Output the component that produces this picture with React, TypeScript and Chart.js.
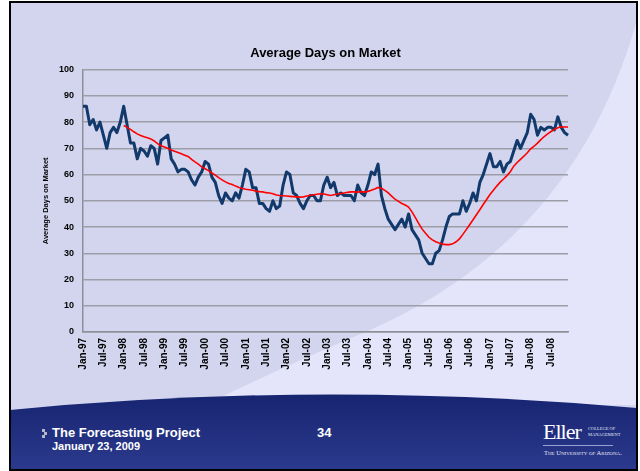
import React, { useEffect, useRef } from "react";
import { Chart, registerables } from "chart.js";

Chart.register(...registerables);

const MONTHS = ["Jan", "Feb", "Mar", "Apr", "May", "Jun", "Jul", "Aug", "Sep", "Oct", "Nov", "Dec"];
const YEARS = ["97", "98", "99", "00", "01", "02", "03", "04", "05", "06", "07", "08"];
const LABELED_MONTHS = ["Jan", "Jul"];

// Average days on market, monthly Jan-97 .. Dec-08
const DAYS_ON_MARKET = [
  86, 86, 79, 81, 77, 80, 75, 70, 76, 78, 76, 80,
  86, 79, 72, 72, 66, 70, 69, 67, 71, 70, 64, 73,
  74, 75, 66, 64, 61, 62, 62, 61, 58, 56, 59, 61,
  65, 64, 59, 57, 52, 49, 53, 51, 50, 53, 51, 56,
  62, 61, 55, 55, 49, 49, 47, 46, 50, 47, 48, 56,
  61, 60, 53, 52, 49, 47, 50, 52, 52, 50, 50, 56,
  59, 55, 57, 52, 53, 52, 52, 52, 50, 56, 53, 52,
  56, 61, 60, 64, 52, 47, 43, 41, 39, 41, 43, 40,
  45, 39, 37, 35, 30, 28, 26, 26, 30, 31, 35, 40,
  44, 45, 45, 45, 50, 46, 49, 53, 50, 57, 60, 64,
  68, 63, 63, 65, 61, 64, 65, 69, 73, 70, 73, 76,
  83, 81, 75, 78, 77, 78, 78, 77, 82, 78, 76, 75,
];

// 12-month moving average (red), Jan-98 .. Dec-08
const MA_START_INDEX = 12;
const MOVING_AVG = [
  78.7, 78, 77.2, 76.3, 75.5, 74.9, 74.4, 74, 73.6, 72.8, 71.8, 71,
  70.5, 70, 69.4, 68.9, 68.4, 67.9, 67.4, 66.9, 65.8, 64.8, 64, 62.9,
  62.2, 61.5, 60.6, 59.8, 58.8, 58, 57.2, 56.6, 56.2, 55.6, 55.1, 54.7,
  54.4, 54.2, 54, 53.7, 53.5, 53.4, 53.1, 53, 52.7, 52.2, 52, 51.9,
  51.8, 51.7, 51.6, 51.5, 51.4, 51.5, 51.8, 52.1, 52.3, 52.5, 52.7, 52.6,
  52.3, 52, 52.3, 52.6, 52.8, 53, 53.2, 53.4, 53.4, 53.3, 53.5, 53.3,
  53.6, 54, 54.5, 55.1, 54.8, 54, 53, 51.8, 50.6, 49.8, 49, 48.4,
  47.6, 45.8, 43.6, 41.3, 39.2, 37.6, 36.1, 35.1, 34.4, 33.9, 33.5, 33.3,
  33.3, 33.6, 34.4, 35.5, 37.2, 39, 40.9, 42.8, 44.7, 46.6, 48.6, 50.5,
  52.4, 54, 55.6, 57.1, 58.3, 59.6, 61.1, 63.2, 64.6, 65.8, 67, 68.3,
  69.8, 70.8, 72, 73.3, 74.5, 75.5, 76.4, 77.2, 77.8, 78.2, 78.1, 78.1,
];

const Y_MIN = 0;
const Y_MAX = 100;
const Y_STEP = 10;

const TITLE = "Average Days on Market";
const Y_TITLE = "Average Days on Market";

const FONT = "'Liberation Sans', Arial, sans-serif";

export default function App() {
  const canvasRef = useRef<HTMLCanvasElement | null>(null);

  useEffect(() => {
    const labels: string[] = [];
    YEARS.forEach((y) => MONTHS.forEach((m) => labels.push(`${m}-${y}`)));
    const maData: (number | null)[] = labels.map((_, i) =>
      i >= MA_START_INDEX ? MOVING_AVG[i - MA_START_INDEX] : null
    );

    const chart = new Chart(canvasRef.current as HTMLCanvasElement, {
      type: "line",
      data: {
        labels,
        datasets: [
          {
            label: "Moving average",
            data: maData,
            borderColor: "#ff0000",
            borderWidth: 1.6,
            pointRadius: 0,
            tension: 0,
            order: 0,
            spanGaps: false,
          },
          {
            label: "Average Days on Market",
            data: DAYS_ON_MARKET,
            borderColor: "#11396b",
            borderWidth: 3,
            pointRadius: 0,
            tension: 0,
            order: 1,
            borderJoinStyle: "round",
          },
        ],
      },
      options: {
        animation: false,
        responsive: false,
        devicePixelRatio: 1,
        layout: { padding: { left: 0, right: 72, top: 0, bottom: 0 } },
        plugins: {
          legend: { display: false },
          tooltip: { enabled: false },
          title: {
            display: true,
            text: TITLE,
            fullSize: false,
            color: "#000",
            font: { family: FONT, size: 13, weight: "bold" },
            padding: { top: 46, bottom: 8 },
          },
        },
        scales: {
          x: {
            type: "category",
            offset: false,
            grid: { display: false, drawTicks: false },
            border: { display: true, color: "#8e8e98", width: 1.5 },
            ticks: {
              autoSkip: false,
              maxRotation: 90,
              minRotation: 90,
              padding: 6,
              color: "#000",
              font: { family: FONT, size: 10, weight: "bold" },
              callback: function (_v: any, i: number) {
                const lab = labels[i];
                return LABELED_MONTHS.includes(lab.slice(0, 3)) ? lab : null;
              },
            },
            afterFit: (scale: any) => {
              scale.height = 68;
            },
          },
          y: {
            min: Y_MIN,
            max: Y_MAX,
            grid: { color: "#9d9da8", lineWidth: 1.5, drawTicks: false },
            border: { display: true, color: "#8e8e98", width: 1.5 },
            ticks: {
              stepSize: Y_STEP,
              padding: 9,
              color: "#000",
              font: { family: FONT, size: 9, weight: "bold" },
            },
            title: {
              display: true,
              text: Y_TITLE,
              color: "#000",
              font: { family: FONT, size: 7.5, weight: "bold" },
              padding: { top: 41, bottom: 0 },
            },
            afterFit: (scale: any) => {
              scale.width = 83;
            },
          },
        },
      },
    });
    return () => chart.destroy();
  }, []);

  return (
    <div
      style={{
        position: "absolute",
        left: 0,
        top: 0,
        width: 640,
        height: 471,
        background: "#ffffff",
        overflow: "hidden",
        fontFamily: FONT,
      }}
    >
      <svg width={640} height={471} style={{ position: "absolute", left: 0, top: 0 }}>
        <defs>
          <linearGradient id="foot" x1="0" y1="0" x2="0" y2="1">
            <stop offset="0" stopColor="#172470" />
            <stop offset="1" stopColor="#2c3a8e" />
          </linearGradient>
        </defs>
        <rect x={10} y={2} width={627} height={468} fill="#d3d5ee" />
        <path d="M 637 20 Q 575 240 370 330 Q 280 368 205 405 L 637 405 Z" fill="#e4e5fb" />
        <path d="M 10 410 Q 320 380 637 408 L 637 470 L 10 470 Z" fill="url(#foot)" />
        <rect x={10} y={2} width={627} height={468} fill="none" stroke="#000" strokeWidth={2} />
        {/* bullet */}
        <rect x={42} y={429} width={3} height={3} fill="#b5b7c9" />
        <rect x={44} y={432} width={3} height={3} fill="#b5b7c9" />
        <rect x={42} y={435} width={3} height={3} fill="#b5b7c9" />
        {/* logo line */}
        <rect x={543} y={445} width={70} height={0.8} fill="#b8bce0" />
      </svg>
      <canvas
        ref={canvasRef}
        width={640}
        height={400}
        style={{ position: "absolute", left: 0, top: 0, width: 640, height: 400 }}
      />
      <div style={{ position: "absolute", left: 52, top: 425, color: "#fff", fontWeight: "bold", fontSize: 13, lineHeight: "15px", whiteSpace: "nowrap" }}>
        The Forecasting Project
      </div>
      <div style={{ position: "absolute", left: 52, top: 440, color: "#fff", fontWeight: "bold", fontSize: 11, lineHeight: "13px", whiteSpace: "nowrap" }}>
        January 23, 2009
      </div>
      <div style={{ position: "absolute", left: 317, top: 425, color: "#fff", fontWeight: "bold", fontSize: 13, lineHeight: "15px" }}>
        34
      </div>
      <div style={{ position: "absolute", left: 543, top: 421, color: "#fff", fontFamily: "'Liberation Serif', 'DejaVu Serif', serif", fontSize: 22, lineHeight: "22px", letterSpacing: "-1px" }}>
        Eller
      </div>
      <div style={{ position: "absolute", left: 588, top: 426, color: "#e8e9f5", fontFamily: "'Liberation Serif', serif", fontSize: 4.5, lineHeight: "6px", whiteSpace: "nowrap" }}>
        COLLEGE OF<br />MANAGEMENT
      </div>
      <div style={{ position: "absolute", left: 544, top: 449, color: "#e8e9f5", fontFamily: "'Liberation Serif', serif", fontSize: 6.5, lineHeight: "8px", whiteSpace: "nowrap", fontVariant: "small-caps" }}>
        The University of Arizona.
      </div>
    </div>
  );
}
